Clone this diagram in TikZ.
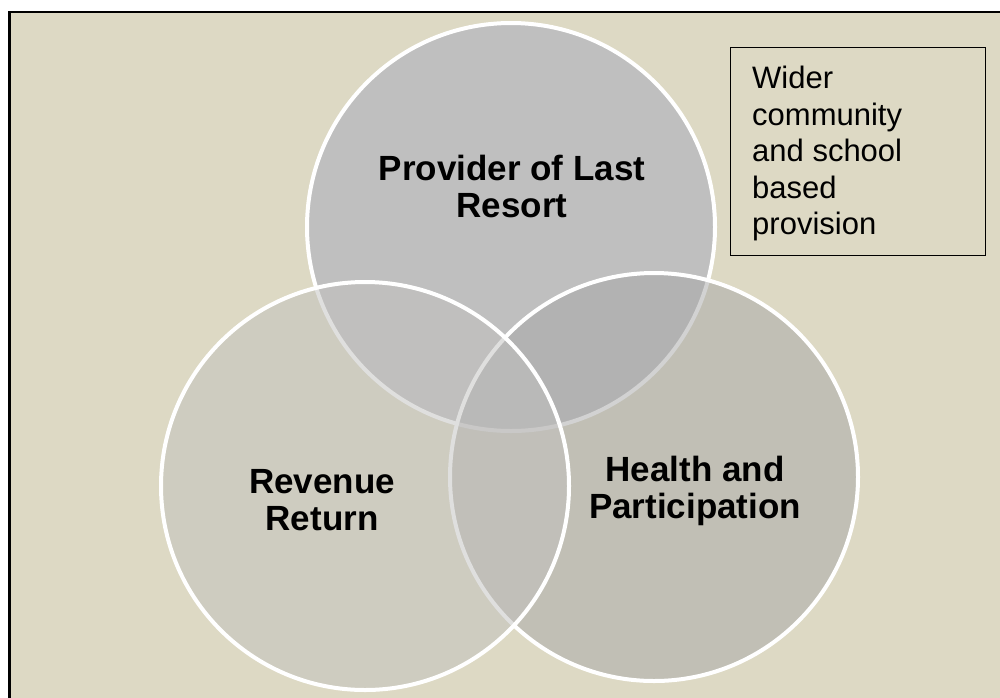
\documentclass[tikz,border=0pt]{standalone}
\usepackage{fontspec}
\setmainfont{Liberation Sans}
\definecolor{bgc}{RGB}{221,217,196}
\definecolor{topc}{RGB}{191,191,191}
\definecolor{rightc}{RGB}{167,167,167}
\definecolor{leftc}{RGB}{193,192,190}
\begin{document}
\begin{tikzpicture}[x=1pt,y=-1pt,
  venn/.style={circle, draw=white, line width=4pt, minimum size=408pt, inner sep=0pt},
  lbl/.style={font=\bfseries\fontsize{35}{37}\selectfont, align=center, inner sep=0pt},
  boxstyle/.style={draw=black, line width=1.3pt, anchor=north west, minimum width=255pt, minimum height=208pt, inner sep=0pt},
  boxtxt/.style={font=\fontsize{31}{36.5}\selectfont, align=left, anchor=north west, inner sep=0pt}]
\useasboundingbox (0,0) rectangle (1000,697);
\clip (0,0) rectangle (1000,697);
\fill[white] (0,0) rectangle (1000,697);
\draw[fill=bgc, line width=2.5pt] (9.5,12) rectangle (1020,720);
\node[venn, fill=topc] (top) at (511,227) {};
\node[venn, fill=rightc, fill opacity=0.5] (right) at (654,477) {};
\node[venn, fill=leftc, fill opacity=0.5] (left) at (365,486) {};
\node[lbl] (ltop) at (512,186) {Provider of Last\\Resort};
\node[lbl] (lleft) at (322,500) {Revenue\\Return};
\node[lbl] (lright) at (695,491) {Health and\\Participation};
\node[boxstyle] (box) at (730,47) {};
\node[boxtxt] (btext) at (752,66) {Wider\\community\\and school\\based\\provision};
\end{tikzpicture}
\end{document}
